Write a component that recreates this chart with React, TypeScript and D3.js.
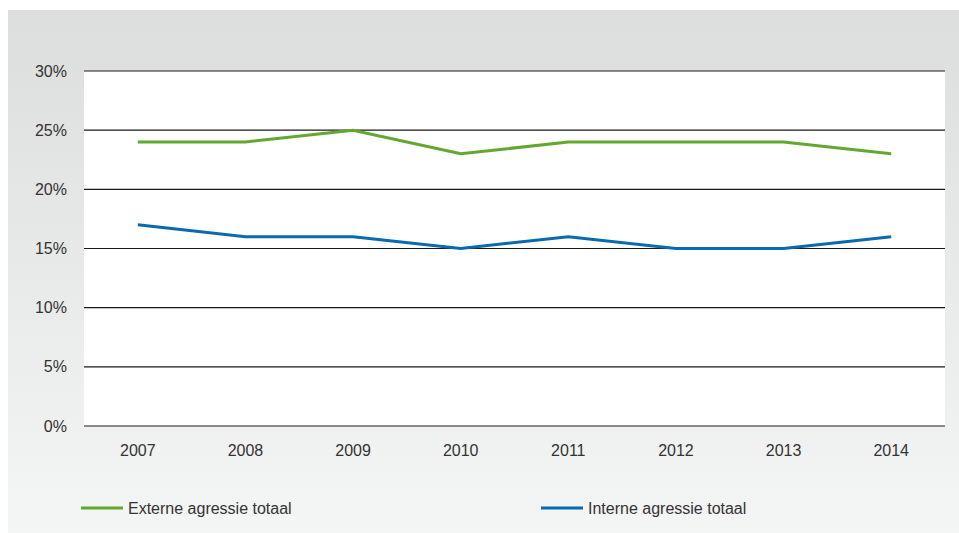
import * as d3 from "d3";

const years = ["2007", "2008", "2009", "2010", "2011", "2012", "2013", "2014"];
const externe = [24, 24, 25, 23, 24, 24, 24, 23];
const interne = [17, 16, 16, 15, 16, 15, 15, 16];
const yTicks = [0, 5, 10, 15, 20, 25, 30];

const W = 959;
const H = 533;
const plot = { left: 84, right: 945, top: 71, bottom: 426 };
const font = "'Liberation Sans', Arial, sans-serif";

export default function App() {
  const x = d3.scaleBand().domain(years).range([plot.left, plot.right]);
  const y = d3.scaleLinear().domain([0, 30]).range([plot.bottom, plot.top]);
  const cx = (d: string) => (x(d) ?? 0) + x.bandwidth() / 2;

  const line = d3
    .line<number>()
    .x((_, i) => cx(years[i]))
    .y((d) => y(d));

  const series = [
    { name: "Externe agressie totaal", values: externe, color: "#62a82f", lx: 81 },
    { name: "Interne agressie totaal", values: interne, color: "#0a6ab0", lx: 541 },
  ];

  return (
    <svg
      width={W}
      height={H}
      style={{ position: "absolute", left: 0, top: 0 }}
      fontFamily={font}
    >
      <defs>
        <linearGradient id="bg" x1="0" y1="0" x2="0" y2="1">
          <stop offset="0" stopColor="#dcdddd" />
          <stop offset="1" stopColor="#f4f5f5" />
        </linearGradient>
      </defs>
      <rect x={0} y={0} width={W} height={H} fill="#fff" />
      <rect x={8} y={10} width={W - 8} height={H - 10} fill="url(#bg)" />
      <rect
        x={plot.left}
        y={plot.top}
        width={plot.right - plot.left}
        height={plot.bottom - plot.top}
        fill="#fff"
      />
      {yTicks.map((t) => (
        <g key={t}>
          <line
            x1={plot.left}
            x2={plot.right}
            y1={y(t)}
            y2={y(t)}
            stroke="#1a1a1a"
            strokeWidth={1.2}
          />
          <text
            x={67}
            y={y(t)}
            dy="0.35em"
            textAnchor="end"
            fontSize={16}
            fill="#333"
          >
            {t}%
          </text>
        </g>
      ))}
      {years.map((yr) => (
        <text
          key={yr}
          x={cx(yr)}
          y={456}
          textAnchor="middle"
          fontSize={16}
          fill="#333"
        >
          {yr}
        </text>
      ))}
      {series.map((s) => (
        <g key={s.name}>
          <path
            d={line(s.values) ?? ""}
            fill="none"
            stroke={s.color}
            strokeWidth={3}
            strokeLinejoin="miter"
          />
          <line
            x1={s.lx}
            x2={s.lx + 42}
            y1={508}
            y2={508}
            stroke={s.color}
            strokeWidth={3}
          />
          <text x={s.lx + 47} y={508} dy="0.35em" fontSize={16} fill="#333">
            {s.name}
          </text>
        </g>
      ))}
    </svg>
  );
}
